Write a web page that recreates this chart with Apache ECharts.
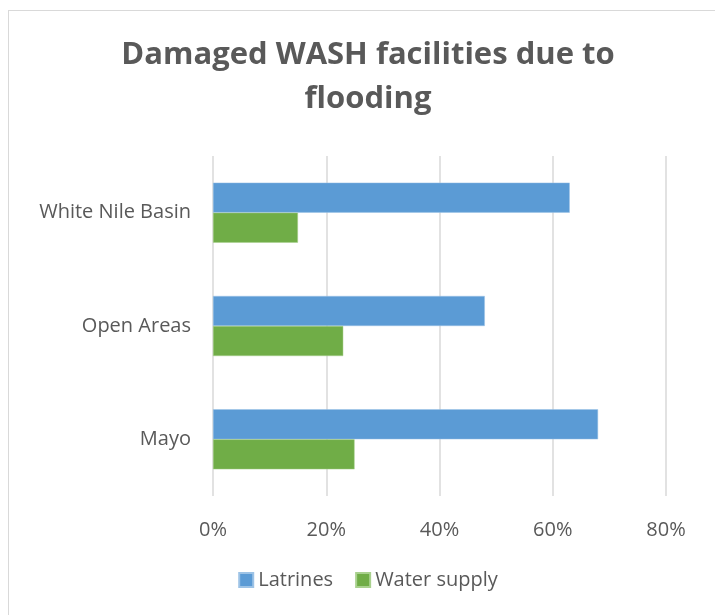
<!DOCTYPE html>
<html lang="en">
<head>
  <meta charset="utf-8">
  <title>Damaged WASH facilities due to flooding</title>
  <script type="text/javascript" src="https://fastly.jsdelivr.net/npm/echarts@6/dist/echarts.min.js"></script>
  <style type="text/css">
    * {
      margin: 0;
      padding: 0;
    }
    html, body {
      width: 100%;
      height: 100%;
      overflow: hidden;
      background: #fff;
    }
    #chart {
      position: absolute;
      left: 8px;
      top: 10px;
      width: 720px;
      height: 620px;
      border: 1px solid #d9d9d9;
      box-sizing: border-box;
    }
  </style>
</head>
<body>
  <div id="chart"></div>
  <script type="text/javascript">
    var categories = ['White Nile Basin', 'Open Areas', 'Mayo'];
    var latrines = [63, 48, 68];
    var waterSupply = [15, 23, 25];
    var tickValues = [0, 20, 40, 60, 80];

    var textColor = '#595959';
    var fontName = 'Open Sans';

    var option = {
      animation: false,
      title: {
        text: 'Damaged WASH facilities due to\nflooding',
        left: 'center',
        top: 17,
        textStyle: {
          fontFamily: fontName,
          fontSize: 31,
          fontWeight: 'bold',
          color: textColor,
          lineHeight: 44
        }
      },
      legend: {
        bottom: 34,
        left: 'center',
        itemWidth: 14,
        itemHeight: 14,
        itemGap: 22,
        icon: 'rect',
        textStyle: {
          fontFamily: fontName,
          fontSize: 20,
          color: textColor
        },
        data: ['Latrines', 'Water supply']
      },
      grid: {
        left: 204,
        right: 61,
        top: 145,
        bottom: 133,
        containLabel: false
      },
      xAxis: {
        type: 'value',
        min: 0,
        max: 80,
        interval: 20,
        axisLine: { show: false },
        axisTick: { show: false },
        axisLabel: {
          formatter: function (v) {
            return tickValues.indexOf(v) >= 0 ? v + '%' : '';
          },
          fontFamily: fontName,
          fontSize: 20,
          color: textColor,
          margin: 24
        },
        splitLine: {
          lineStyle: { color: '#d9d9d9', width: 1.5 }
        }
      },
      yAxis: {
        type: 'category',
        inverse: true,
        data: categories,
        axisLine: { show: false },
        axisTick: { show: false },
        axisLabel: {
          fontFamily: fontName,
          fontSize: 20,
          color: textColor,
          margin: 22
        }
      },
      series: [
        {
          name: 'Latrines',
          type: 'bar',
          data: latrines,
          barGap: '0%',
          barCategoryGap: '47%',
          itemStyle: { color: '#5b9bd5', borderColor: '#9dc3e6', borderWidth: 0.5 }
        },
        {
          name: 'Water supply',
          type: 'bar',
          data: waterSupply,
          itemStyle: { color: '#70ad47', borderColor: '#a9d18e', borderWidth: 0.5 }
        }
      ]
    };

    var chart = echarts.init(document.getElementById('chart'));
    chart.setOption(option);
  </script>
</body>
</html>
